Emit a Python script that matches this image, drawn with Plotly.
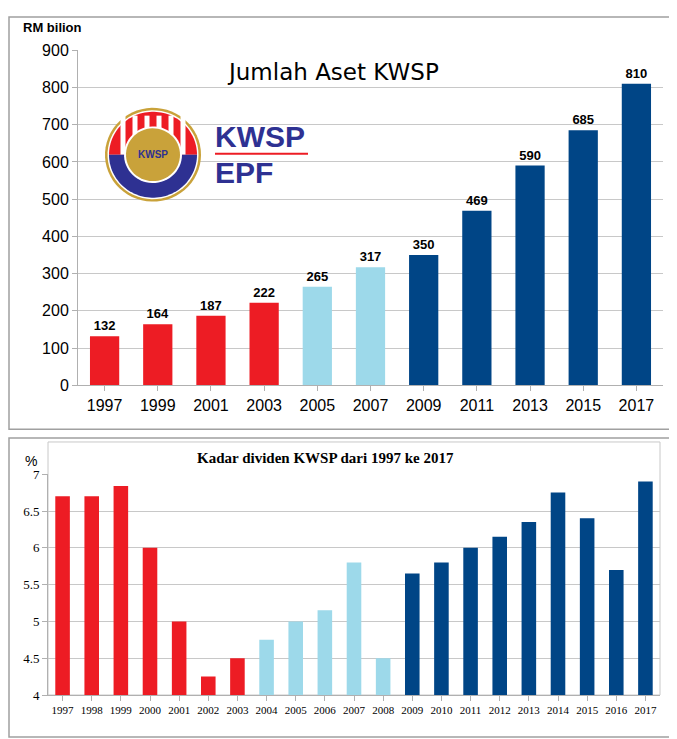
import plotly.graph_objects as go
import numpy as np

years_a = ["1997","1999","2001","2003","2005","2007","2009","2011","2013","2015","2017"]
assets = [132,164,187,222,265,317,350,469,590,685,810]
years_d = [str(y) for y in range(1997,2018)]
dividend = [6.7,6.7,6.84,6.0,5.0,4.25,4.5,4.75,5.0,5.15,5.8,4.5,5.65,5.8,6.0,6.15,6.35,6.75,6.4,5.7,6.9]

RED="#ED1C24"; LB="#9DD9EA"; DB="#004586"
def col(y):
    y=int(y)
    return RED if y<=2003 else (LB if y<=2008 else DB)

W,H=677,739
def px(x): return x/W
def py(y): return 1-y/H

fig=go.Figure()
fig.add_trace(go.Bar(x=years_a,y=assets,marker_color=[col(y) for y in years_a],
    marker_line_width=0,width=0.55,text=assets,textposition="outside",
    textfont=dict(family="Liberation Sans",size=13,color="black"),
    texttemplate="<b>%{text}</b>",cliponaxis=False,xaxis="x",yaxis="y"))
fig.add_trace(go.Bar(x=years_d,y=dividend,marker_color=[col(y) for y in years_d],
    marker_line_width=0,width=0.5,xaxis="x2",yaxis="y2"))

grid="#C8C8C8"
fig.update_layout(width=W,height=H,margin=dict(l=0,r=0,t=0,b=0),showlegend=False,
    paper_bgcolor="white",plot_bgcolor="rgba(0,0,0,0)",font=dict(family="Liberation Sans",color="black"),
    xaxis=dict(domain=[px(70),px(655)],anchor="y",type="category",showline=True,linecolor="#B0B0B0",ticks="outside",
        tickcolor="#B0B0B0",tickfont=dict(size=16),ticklen=5),
    yaxis=dict(domain=[py(378),py(35)],anchor="x",range=[0,900],dtick=100,gridcolor=grid,showline=True,
        linecolor="#B0B0B0",ticks="outside",tickcolor="#B0B0B0",tickfont=dict(size=16),zeroline=False),
    xaxis2=dict(domain=[px(40),px(652)],anchor="y2",type="category",showline=True,linecolor="#B0B0B0",ticks="outside",
        tickcolor="#B0B0B0",tickfont=dict(size=11,family="Liberation Sans Narrow"),tickangle=0,ticklen=5),
    yaxis2=dict(domain=[py(695),py(469)],anchor="x2",range=[4,7],dtick=0.5,gridcolor=grid,showline=True,
        linecolor="#B0B0B0",ticks="outside",tickcolor="#B0B0B0",tickfont=dict(size=13,family="Liberation Sans Narrow"),zeroline=False),
    bargap=0.4)

shapes=[]
def rect(x0,y0,x1,y1,color,w):
    shapes.append(dict(type="rect",xref="paper",yref="paper",x0=px(x0),y0=py(y0),x1=px(x1),y1=py(y1),
        line=dict(color=color,width=w),layer="below"))
rect(1,1,662,423,"#A0A0A0",1.5)
rect(1,432,676,738,"#A0A0A0",1.5)
rect(40,436,652,695,"#C8C8C8",1)

cx,cy=145,142
def poly(pts):
    return "M "+" L ".join(f"{px(x):.5f},{py(y):.5f}" for x,y in pts)+" Z"
def circle(r,a0=0,a1=2*np.pi):
    t=np.linspace(a0,a1,60)
    return [(cx+r*np.cos(a),cy+r*np.sin(a)) for a in t]
def add(path,color):
    shapes.append(dict(type="path",xref="paper",yref="paper",path=path,fillcolor=color,line=dict(width=0),layer="above"))
add(poly(circle(48)),"#C9A23A")
add(poly(circle(45.5)),"white")
add(poly(circle(44,np.pi,2*np.pi)),RED)
for dx in [-30,-18,-6,6,18,30]:
    add(poly([(cx+dx-2.5,cy-40),(cx+dx+2.5,cy-40),(cx+dx+2.5,cy),(cx+dx-2.5,cy)]),"white")
add(poly(circle(44,0,np.pi)),"#2E3192")
add(poly(circle(29)),"white")
add(poly(circle(27)),"#C9A23A")
shapes.append(dict(type="line",xref="paper",yref="paper",x0=px(207),x1=px(300),y0=py(141),y1=py(141),line=dict(color=RED,width=2)))
fig.update_layout(shapes=shapes)

ann=[
 dict(x=13,y=12,text="<b>RM bilion</b>",font=dict(size=13)),
 dict(x=325,y=57,text="Jumlah Aset KWSP",font=dict(size=23,family="DejaVu Sans"),xanchor="center"),
 dict(x=205,y=123,text="<b>KWSP</b>",font=dict(size=30,color="#2E3192"),xanchor="left"),
 dict(x=205,y=160,text="<b>EPF</b>",font=dict(size=30,color="#2E3192"),xanchor="left"),
 dict(x=145,y=142,text="<b>KWSP</b>",font=dict(size=10,color="#2E3192"),xanchor="center"),
 dict(x=317,y=452,text="<b>Kadar dividen KWSP dari 1997 ke 2017</b>",font=dict(size=15,family="Liberation Sans Narrow"),xanchor="center"),
 dict(x=23,y=455,text="%",font=dict(size=14),xanchor="center"),
]
for a in ann:
    a["x"]=px(a["x"]); a["y"]=py(a["y"])
    a.update(xref="paper",yref="paper",showarrow=False,yanchor="middle")
    a.setdefault("xanchor","left")
fig.update_layout(annotations=ann)
fig.write_html("out.html")
